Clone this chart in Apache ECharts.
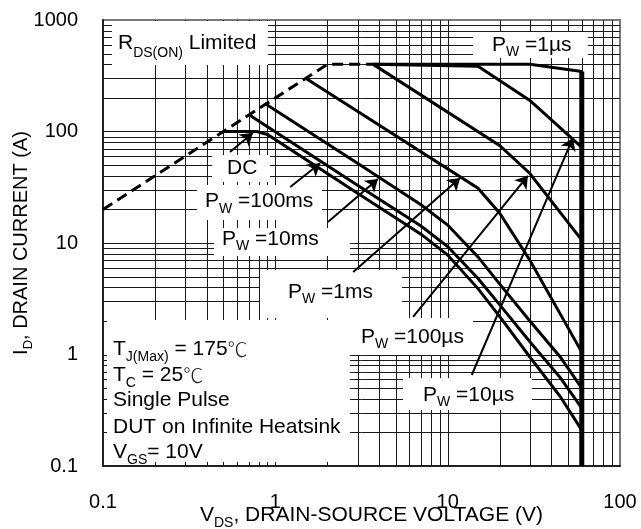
<!DOCTYPE html>
<html><head><meta charset="utf-8">
<script src="https://cdn.jsdelivr.net/npm/echarts@6/dist/echarts.min.js"></script>
<style>html,body{margin:0;padding:0;background:#fff}#c{width:641px;height:529px}</style>
</head><body><div id="c"></div>
<script>
// ---- data (V, A) ----
const xRange = [0.1, 100];
const yRange = [0.1, 1000];
const xGridValues = [0.2,0.3,0.4,0.5,0.6,0.7,0.8,0.9,1,2,3,4,5,6,7,8,9,10,20,30,40,50,60,70,80,90];
const yGridValues = [0.2,0.3,0.4,0.5,0.6,0.7,0.8,0.9,1,2,3,4,5,6,7,8,9,10,20,30,40,50,60,70,80,90,100,200,300,400,500,600,700,800,900];
const rdsLimit = [[0.1,20],[2,400],[3.7,400]];
const pw1us   = [[3.7,400],[30,400],[60,345]];
const bvdss   = [[60,345],[60,0.1]];
const pw10us  = [[3.7,400],[15,385],[30,190],[52,88],[60,72]];
const pw100us = [[3.7,400],[20,75],[30,42],[60,10.6]];
const pw1ms   = [[1.5,300],[15,31],[20,18.6],[30,7],[60,1.05]];
const pw10ms  = [[0.87,178],[3,52],[7,22],[10,14.5],[15,7.5],[20,4.3],[30,2],[45,0.95],[60,0.5]];
const pw100ms = [[0.7,142],[3,33],[7,14.2],[10,9.3],[15,4.8],[20,2.8],[30,1.3],[45,0.62],[60,0.33]];
const dc      = [[0.5,100],[0.78,100],[0.9,94],[3,28],[7,12],[10,7.8],[15,3.9],[20,2.2],[30,0.95],[45,0.42],[60,0.21]];
// arrows: [from, to]
const arrows = [
  [[0.546,65.5],[0.74,97]],
  [[1.22,31.8],[1.82,52]],
  [[2.02,15.4],[3.94,37.5]],
  [[2.83,5.5],[11.8,38.3]],
  [[6.3,2.17],[29.2,40]],
  [[13.8,0.655],[53.3,87.5]]
];

const FF = '"Liberation Sans", Arial, Helvetica, sans-serif';
const CJK = '"Noto Sans CJK SC", sans-serif';
const chart = echarts.init(document.getElementById('c'), null, {renderer:'canvas'});

function fmt(v){ return v < 1 ? v.toFixed(1) : String(Math.round(v)); }

function curve(data, extra){
  return Object.assign({
    type:'line', data: data, symbol:'none', showSymbol:false, silent:true,
    lineStyle:{color:'#000', width:3, join:'miter'}, z:10, animation:false
  }, extra || {});
}

function label(x, yc, text, sub){
  const L = sub || 25;
  return {
    type:'text', x:x, y:yc - 10.5, z:6,
    style:{
      text:text, align:'left', verticalAlign:'top', fill:'#000',
      fontSize:21, fontFamily:FF,
      rich:{
        m:{fontSize:21, fontFamily:FF, lineHeight:L, verticalAlign:'top', fill:'#000'},
        c:{fontSize:20, fontFamily:CJK, fontWeight:300, lineHeight:L, verticalAlign:'top', fill:'#222'},
        s:{fontSize:14, fontFamily:FF, lineHeight:L, verticalAlign:'bottom', fill:'#000'}
      }
    }
  };
}
function box(x1, y1, x2, y2){
  return {type:'rect', z:5, shape:{x:x1, y:y1, width:x2-x1, height:y2-y1}, style:{fill:'#fff'}};
}

const option = {
  animation:false,
  backgroundColor:'#fff',
  grid:{left:103, top:20, width:517, height:446, outerBoundsMode:'none', containLabel:false,
        show:true, borderColor:'#7a7a7a', borderWidth:2, backgroundColor:'transparent'},
  xAxis:{
    type:'log', logBase:10, min:xRange[0], max:xRange[1],
    axisLine:{show:true, lineStyle:{color:'#222', width:2}},
    axisTick:{show:false}, splitLine:{show:false}, minorTick:{show:false},
    axisLabel:{formatter:fmt, fontSize:20, fontFamily:FF, color:'#000', margin:26},
    name:'{m|V}{s|DS}{m|, DRAIN-SOURCE VOLTAGE (V)}', nameLocation:'middle', nameGap:39, nameMoveOverlap:false,
    nameTextStyle:{fontSize:21, fontFamily:FF, color:'#000', padding:[0,0,0,20],
      rich:{m:{fontSize:21, fontFamily:FF, lineHeight:25, verticalAlign:'top', color:'#000'},
            s:{fontSize:14, fontFamily:FF, lineHeight:25, verticalAlign:'bottom', color:'#000'}}}
  },
  yAxis:{
    type:'log', logBase:10, min:yRange[0], max:yRange[1],
    axisLine:{show:true, lineStyle:{color:'#222', width:2}},
    axisTick:{show:false}, splitLine:{show:false}, minorTick:{show:false},
    axisLabel:{formatter:fmt, fontSize:20, fontFamily:FF, color:'#000', margin:25},
    name:'{m|I}{s|D}{m|, DRAIN CURRENT (A)}', nameLocation:'middle', nameGap:68, nameMoveOverlap:false,
    nameTextStyle:{fontSize:20, fontFamily:FF, color:'#000',
      rich:{m:{fontSize:20, fontFamily:FF, lineHeight:24, verticalAlign:'top', color:'#000'},
            s:{fontSize:13, fontFamily:FF, lineHeight:24, verticalAlign:'bottom', color:'#000'}}}
  },
  graphic:{elements:[
    box(112,21,268,65),
    box(473,32,588,58),
    box(212,155,270,182),
    box(197,185,322,220),
    box(214,228,350,256),
    box(260,270,402,318),
    box(348,318,473,355),
    box(403,378,532,410),
    box(107,320,350,462),
    label(118,43.5,'{m|R}{s|DS(ON)}{m| Limited}',27),
    label(492,45,'{m|P}{s|W}{m| =1µs}'),
    label(227,168.5,'{m|DC}'),
    label(205,201.5,'{m|P}{s|W}{m| =100ms}'),
    label(222,239,'{m|P}{s|W}{m| =10ms}'),
    label(288,292,'{m|P}{s|W}{m| =1ms}'),
    label(361,337,'{m|P}{s|W}{m| =100µs}'),
    label(423,395,'{m|P}{s|W}{m| =10µs}'),
    label(113,349.5,'{m|T}{s|J(Max)}{m| = 175}{c|℃}'),
    label(113,375.5,'{m|T}{s|C}{m| = 25}{c|℃}'),
    label(113,400.5,'{m|Single Pulse}'),
    label(113,427.5,'{m|DUT on Infinite Heatsink}'),
    label(113,452.5,'{m|V}{s|GS}{m|= 10V}')
  ]},
  series:[
    {type:'custom', z:1, silent:true, data:xGridValues.map(v=>[v,1]),
     renderItem:function(p, api){
       const a = api.coord([api.value(0), yRange[0]]), b = api.coord([api.value(0), yRange[1]]);
       const x = Math.round(a[0]) + 0.5;
       return {type:'line', shape:{x1:x, y1:a[1], x2:x, y2:b[1]}, style:{stroke:'#1a1a1a', lineWidth:1}};
     }},
    {type:'custom', z:1, silent:true, data:yGridValues.map(v=>[1,v]),
     renderItem:function(p, api){
       const a = api.coord([xRange[0], api.value(1)]), b = api.coord([xRange[1], api.value(1)]);
       const y = Math.round(a[1]) + 0.5;
       return {type:'line', shape:{x1:a[0], y1:y, x2:b[0], y2:y}, style:{stroke:'#1a1a1a', lineWidth:1}};
     }},
    curve(rdsLimit, {lineStyle:{color:'#000', width:3, type:[11,6]}}),
    curve(pw1us),
    curve(bvdss, {lineStyle:{color:'#000', width:5}}),
    curve(pw10us),
    curve(pw100us),
    curve(pw1ms),
    curve(pw10ms),
    curve(pw100ms),
    curve(dc),
    {type:'lines', coordinateSystem:'cartesian2d', z:9, silent:true,
     data: arrows.map(a => ({coords:[a[0], a[1]]})),
     symbol:['none','arrow'], symbolSize:12,
     lineStyle:{color:'#000', width:2, opacity:1, curveness:0}}
  ]
};
chart.setOption(option);
</script></body></html>
